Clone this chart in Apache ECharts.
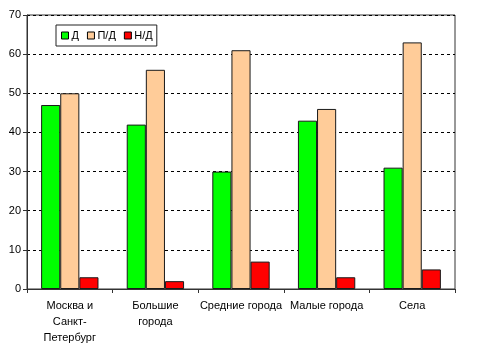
<!DOCTYPE html>
<html>
<head>
<meta charset="utf-8">
<script src="https://cdn.jsdelivr.net/npm/echarts@6/dist/echarts.min.js"></script>
<style>
  html, body { margin: 0; padding: 0; background: #fff; }
  #chart { width: 478px; height: 351px; }
</style>
</head>
<body>
<div id="chart"></div>
<script>
// categories and series values
var categories = ['Москва и\nСанкт-\nПетербург', 'Большие\nгорода', 'Средние города', 'Малые города', 'Села'];
var seriesNames = ['Д', 'П/Д', 'Н/Д'];
var valD = [47, 42, 30, 43, 31];
var valPD = [50, 56, 61, 46, 63];
var valND = [3, 2, 7, 3, 5];
var colors = ['#00ff00', '#ffcc99', '#ff0000'];

var chart = echarts.init(document.getElementById('chart'));

function makeSeries(name, data, color) {
  return {
    name: name,
    type: 'bar',
    data: data,
    barGap: '0%',
    barCategoryGap: '33%',
    itemStyle: { color: color, borderColor: '#1a1a1a', borderWidth: 1 }
  };
}

var option = {
  backgroundColor: '#ffffff',
  animation: false,
  textStyle: { fontFamily: 'Liberation Sans, Arial, sans-serif' },
  grid: {
    left: 27, right: 23, top: 15, bottom: 62,
    show: true, borderColor: '#333', borderWidth: 1,
    containLabel: false
  },
  legend: {
    left: 56, top: 25,
    padding: [5, 4, 5, 5],
    itemWidth: 7, itemHeight: 7,
    itemGap: 8,
    icon: 'rect',
    borderColor: '#222', borderWidth: 1,
    itemStyle: { borderColor: '#000', borderWidth: 1 },
    textStyle: { fontSize: 11, color: '#000', padding: [0, 0, 0, -2] },
    data: seriesNames
  },
  xAxis: {
    type: 'category',
    data: categories,
    axisLine: { lineStyle: { color: '#333' } },
    axisTick: { show: true, length: 4, lineStyle: { color: '#333' } },
    axisLabel: { interval: 0, fontSize: 11, color: '#000', lineHeight: 16, margin: 9 }
  },
  yAxis: {
    type: 'value',
    min: 0, max: 70, interval: 10,
    axisLine: { show: true, lineStyle: { color: '#333' } },
    axisTick: { show: true, length: 4, lineStyle: { color: '#333' } },
    axisLabel: { fontSize: 11, color: '#000', margin: 6 },
    splitLine: { lineStyle: { color: '#000', type: [3, 3] } }
  },
  series: [
    makeSeries(seriesNames[0], valD, colors[0]),
    makeSeries(seriesNames[1], valPD, colors[1]),
    makeSeries(seriesNames[2], valND, colors[2])
  ]
};

chart.setOption(option);
</script>
</body>
</html>
